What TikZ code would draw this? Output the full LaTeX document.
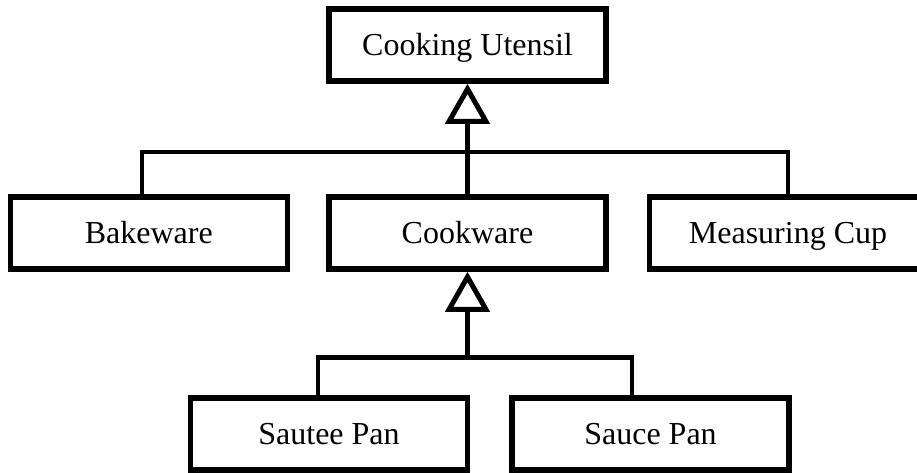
\documentclass[tikz,border=0pt]{standalone}
\usepackage{fontspec}
\setmainfont{Liberation Serif}
\usetikzlibrary{arrows.meta}
\tikzset{
  cajaClase/.style={
    draw=black, line width=5.5pt, fill=white,
    minimum width=277pt, minimum height=72pt, inner sep=0pt,
    text height=21pt, text depth=0pt,
    align=center, font=\fontsize{32}{38}\selectfont
  },
  flechaHerencia/.style={line width=4.5pt,
    -{Triangle[open, length=40pt, width=44pt, line width=5pt]}},
  ramaHerencia/.style={line width=4.5pt},
}
\begin{document}
\begin{tikzpicture}[x=1pt, y=-1pt]
    \useasboundingbox (0,0) rectangle (917,472);
    % Raiz
    \node[cajaClase] (utensil) at (467.5,45) {Cooking Utensil};

    % Segundo nivel
    \node[cajaClase] (bake) at (148.75,233) {Bakeware};
    \node[cajaClase] (cook) at (467.5,233) {Cookware};
    \node[cajaClase] (cup) at (788,233) {Measuring Cup};

    % Tercer nivel
    \node[cajaClase] (saute) at (329,434) {Sautee Pan};
    \node[cajaClase] (sauce) at (650.5,434) {Sauce Pan};

    \coordinate (j1) at (467.5,152);
    \coordinate (j2) at (467.5,357.5);

    \draw[flechaHerencia] (j1) -- (utensil);
    \draw[ramaHerencia] ([xshift=-6.75pt]bake.north) |- (j1) -| (cup.north);
    \draw[ramaHerencia] (cook.north) -- (j1);

    \draw[flechaHerencia] (j2) -- (cook);
    \draw[ramaHerencia] ([xshift=-11pt]saute.north) |- (j2) -| ([xshift=-18.5pt]sauce.north);
  \end{tikzpicture}
\end{document}
